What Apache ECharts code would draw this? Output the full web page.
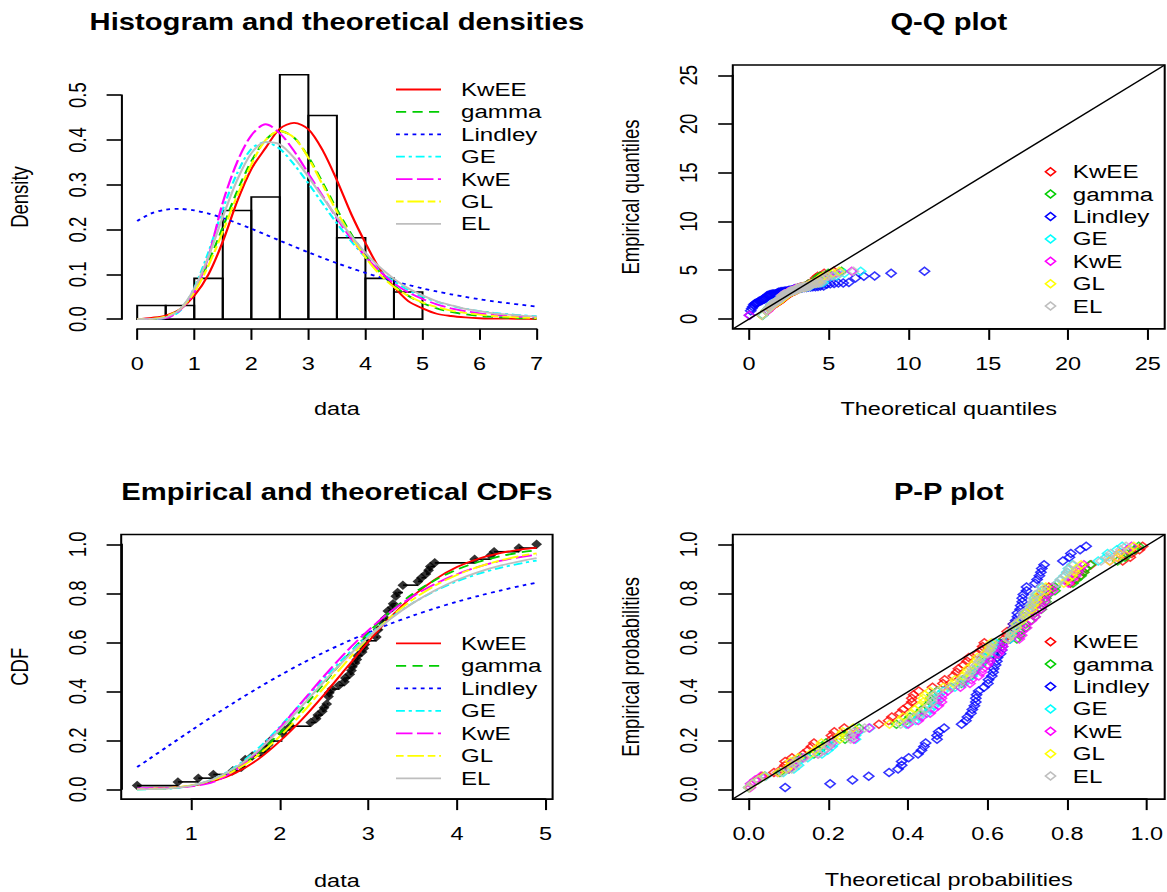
<!DOCTYPE html>
<html><head><meta charset="utf-8">
<script src="https://cdn.jsdelivr.net/npm/echarts@6/dist/echarts.min.js"></script>
<style>
html,body{margin:0;padding:0;background:#fff;overflow:hidden;}
#wrap{width:1167px;height:892px;overflow:hidden;position:relative;background:#fff;}
#main{width:919px;height:892px;transform:scaleX(1.269858542);transform-origin:0 0;}
</style></head>
<body><div id="wrap"><div id="main"></div></div>
<script>
// ---------------- DATA ----------------
const distNames = ['KwEE','gamma','Lindley','GE','KwE','GL','EL'];
const dataSorted = [0.39,0.85,1.08,1.25,1.47,1.57,1.61,1.61,1.69,1.80,1.84,1.87,1.89,2.03,2.03,2.05,2.12,2.35,2.41,2.43,2.48,2.50,2.53,2.55,2.55,2.56,2.59,2.67,2.73,2.74,2.79,2.81,2.82,2.85,2.87,2.88,2.93,2.95,2.96,2.97,3.09,3.11,3.11,3.15,3.15,3.19,3.22,3.22,3.27,3.28,3.31,3.31,3.33,3.39,3.39,3.56,3.60,3.65,3.68,3.70,3.75,4.20,4.38,4.42,4.70,4.90];
const histBreaks = [0,0.5,1,1.5,2,2.5,3,3.5,4,4.5,5];
const histDensity = [0.0303,0.0303,0.0909,0.2424,0.2727,0.5455,0.4545,0.1818,0.0909,0.0606];

const densX = [0,0.25,0.5,0.75,1,1.25,1.5,1.75,2,2.25,2.5,2.75,3,3.25,3.5,3.75,4,4.25,4.5,4.75,5,5.25,5.5,5.75,6,6.25,6.5,6.75,7];
const densKwEE = [0,0.003,0.008,0.022,0.052,0.10,0.173,0.262,0.335,0.382,0.425,0.438,0.424,0.377,0.31,0.235,0.17,0.112,0.072,0.04,0.024,0.012,0.007,0.004,0.002,0.001,0.001,0.0005,0.0003];
const densGamma = [0,0.0002,0.004,0.022,0.063,0.128,0.205,0.285,0.352,0.40,0.42,0.405,0.362,0.305,0.245,0.19,0.143,0.105,0.075,0.052,0.036,0.024,0.016,0.011,0.007,0.005,0.003,0.002,0.0013];
const densLindley = [0.219,0.2361,0.2445,0.2461,0.2427,0.2356,0.2258,0.2144,0.2018,0.1886,0.1753,0.162,0.1491,0.1368,0.1249,0.1138,0.1033,0.0936,0.0846,0.0764,0.0687,0.0618,0.0555,0.0497,0.0444,0.0397,0.0355,0.0316,0.0282];
const densGE = [0,0,0.002,0.018,0.07,0.15,0.245,0.325,0.38,0.395,0.38,0.345,0.303,0.258,0.214,0.174,0.138,0.108,0.084,0.065,0.05,0.039,0.03,0.023,0.018,0.014,0.011,0.0085,0.0066];
const densKwE = [0,0.0005,0.002,0.02,0.06,0.14,0.26,0.35,0.41,0.435,0.415,0.375,0.325,0.275,0.225,0.18,0.14,0.107,0.08,0.06,0.045,0.033,0.024,0.018,0.013,0.0095,0.007,0.005,0.0037];
const densGL = [0,0.0005,0.006,0.022,0.06,0.12,0.195,0.275,0.345,0.40,0.42,0.405,0.36,0.30,0.24,0.185,0.138,0.10,0.072,0.052,0.037,0.027,0.019,0.014,0.01,0.007,0.005,0.0035,0.0025];
const densEL = [0,0.0005,0.004,0.022,0.068,0.14,0.228,0.31,0.37,0.395,0.39,0.36,0.318,0.272,0.228,0.186,0.148,0.116,0.09,0.069,0.053,0.04,0.031,0.023,0.018,0.013,0.01,0.0076,0.0057];

const ecdfX = [0.39,0.85,1.08,1.25,1.47,1.57,1.61,1.69,1.80,1.84,1.87,1.89,2.03,2.05,2.12,2.35,2.41,2.43,2.48,2.50,2.53,2.55,2.56,2.59,2.67,2.73,2.74,2.79,2.81,2.82,2.85,2.87,2.88,2.93,2.95,2.96,2.97,3.09,3.11,3.15,3.19,3.22,3.27,3.28,3.31,3.33,3.39,3.56,3.60,3.65,3.68,3.70,3.75,4.20,4.38,4.42,4.70,4.90];
const ecdfY = [0.0152,0.0303,0.0455,0.0606,0.0758,0.0909,0.1212,0.1364,0.1515,0.1667,0.1818,0.197,0.2273,0.2424,0.2576,0.2727,0.2879,0.303,0.3182,0.3333,0.3485,0.3788,0.3939,0.4091,0.4242,0.4394,0.4545,0.4697,0.4848,0.5,0.5152,0.5303,0.5455,0.5606,0.5758,0.5909,0.6061,0.6212,0.6515,0.6818,0.697,0.7273,0.7424,0.7576,0.7879,0.803,0.8333,0.8485,0.8636,0.8788,0.8939,0.9091,0.9242,0.9394,0.9545,0.9697,0.9848,1.0];

const cdfX = [0.39,0.5,0.75,1,1.25,1.5,1.75,2,2.25,2.5,2.75,3,3.25,3.5,3.75,4,4.25,4.5,4.75,4.9];
const cdfKwEE = [0.0012,0.0018,0.0053,0.014,0.033,0.067,0.121,0.196,0.285,0.386,0.494,0.602,0.702,0.788,0.856,0.907,0.942,0.965,0.98,0.985];
const cdfGamma = [0.0003,0.0005,0.0039,0.0149,0.0397,0.0829,0.1464,0.229,0.3266,0.4329,0.5398,0.6393,0.7258,0.7971,0.8535,0.8967,0.9288,0.9522,0.9687,0.9749];
const cdfLindley = [0.091,0.1174,0.179,0.240,0.2999,0.3576,0.4127,0.4647,0.5136,0.559,0.6012,0.640,0.6757,0.7085,0.7384,0.7655,0.79,0.8123,0.8324,0.8436];
const cdfGE = [0.0002,0.0003,0.0028,0.014,0.042,0.0925,0.165,0.255,0.354,0.453,0.545,0.628,0.70,0.76,0.809,0.849,0.88,0.905,0.924,0.9336];
const cdfKwE = [0.004,0.0045,0.006,0.012,0.03,0.078,0.154,0.25,0.356,0.462,0.561,0.649,0.725,0.787,0.838,0.878,0.909,0.933,0.95,0.9572];
const cdfGL = [0.0006,0.001,0.005,0.016,0.038,0.078,0.138,0.216,0.31,0.415,0.52,0.618,0.703,0.774,0.831,0.875,0.909,0.935,0.955,0.9628];
const cdfEL = [0.0004,0.0006,0.004,0.0153,0.0417,0.0884,0.1567,0.243,0.34,0.4396,0.5348,0.6208,0.6957,0.7591,0.8116,0.854,0.8875,0.9136,0.9338,0.9435];

const qqKwEE = [0.816,1.114,1.286,1.397,1.506,1.576,1.646,1.716,1.776,1.826,1.877,1.927,1.978,2.024,2.067,2.109,2.152,2.195,2.237,2.276,2.313,2.351,2.388,2.426,2.464,2.501,2.536,2.571,2.606,2.641,2.676,2.711,2.746,2.781,2.816,2.851,2.887,2.922,2.957,2.992,3.029,3.067,3.105,3.143,3.181,3.218,3.257,3.301,3.345,3.39,3.434,3.478,3.528,3.583,3.639,3.695,3.75,3.824,3.899,3.973,4.069,4.177,4.304,4.467,4.705,5.31];
const qqGamma = [0.834,1.079,1.232,1.327,1.415,1.502,1.561,1.621,1.681,1.74,1.788,1.834,1.88,1.926,1.972,2.015,2.054,2.093,2.131,2.17,2.209,2.248,2.284,2.319,2.355,2.39,2.426,2.462,2.497,2.533,2.568,2.604,2.639,2.675,2.71,2.746,2.783,2.821,2.859,2.897,2.935,2.974,3.013,3.057,3.101,3.145,3.188,3.232,3.282,3.335,3.388,3.441,3.494,3.56,3.627,3.694,3.765,3.852,3.94,4.037,4.156,4.282,4.444,4.65,4.959,5.8];
const qqLindley = [0.034,0.102,0.168,0.232,0.297,0.36,0.423,0.484,0.547,0.608,0.67,0.732,0.793,0.855,0.917,0.979,1.042,1.105,1.168,1.232,1.297,1.362,1.427,1.494,1.561,1.63,1.699,1.77,1.841,1.914,1.987,2.064,2.141,2.22,2.303,2.388,2.471,2.555,2.644,2.739,2.834,2.93,3.028,3.139,3.25,3.361,3.471,3.598,3.731,3.864,3.997,4.158,4.321,4.482,4.676,4.872,5.088,5.334,5.6,5.904,6.258,6.673,7.197,7.874,8.907,11.0];
const qqGE = [0.857,1.078,1.213,1.304,1.38,1.454,1.521,1.573,1.625,1.677,1.73,1.776,1.818,1.86,1.902,1.944,1.986,2.026,2.064,2.102,2.14,2.179,2.217,2.255,2.293,2.331,2.37,2.408,2.446,2.485,2.525,2.566,2.607,2.648,2.69,2.731,2.774,2.82,2.865,2.911,2.956,3.003,3.055,3.108,3.161,3.213,3.269,3.332,3.395,3.458,3.527,3.604,3.681,3.76,3.855,3.949,4.057,4.178,4.314,4.465,4.654,4.872,5.152,5.48,5.98,7.0];
const qqKwE = [0.02,1.163,1.291,1.37,1.449,1.517,1.567,1.617,1.667,1.717,1.763,1.802,1.842,1.881,1.921,1.96,2.0,2.036,2.071,2.107,2.143,2.178,2.214,2.25,2.286,2.321,2.357,2.393,2.429,2.465,2.5,2.539,2.577,2.615,2.653,2.692,2.73,2.77,2.813,2.856,2.899,2.942,2.985,3.033,3.083,3.133,3.182,3.232,3.29,3.351,3.412,3.473,3.542,3.616,3.69,3.768,3.863,3.957,4.068,4.189,4.33,4.487,4.706,5.003,5.478,6.44];
const qqGL = [0.809,1.076,1.249,1.344,1.439,1.522,1.585,1.648,1.712,1.769,1.818,1.866,1.915,1.963,2.01,2.05,2.09,2.131,2.171,2.211,2.251,2.288,2.324,2.36,2.396,2.432,2.468,2.504,2.54,2.576,2.612,2.648,2.684,2.72,2.757,2.796,2.834,2.873,2.911,2.95,2.989,3.032,3.076,3.121,3.165,3.21,3.255,3.309,3.362,3.415,3.469,3.528,3.594,3.661,3.727,3.806,3.892,3.978,4.084,4.195,4.324,4.47,4.65,4.887,5.258,5.65];
const qqEL = [0.83,1.07,1.214,1.31,1.392,1.473,1.537,1.592,1.648,1.703,1.757,1.801,1.845,1.888,1.932,1.976,2.018,2.057,2.096,2.135,2.174,2.214,2.252,2.29,2.328,2.366,2.404,2.442,2.48,2.519,2.559,2.599,2.639,2.679,2.718,2.759,2.803,2.847,2.891,2.935,2.979,3.027,3.077,3.128,3.178,3.229,3.285,3.345,3.404,3.464,3.529,3.601,3.673,3.745,3.834,3.923,4.016,4.128,4.242,4.384,4.538,4.725,4.954,5.275,5.704,6.55];

const ppEmp = [0.0076,0.0227,0.0379,0.053,0.0682,0.0833,0.0985,0.1136,0.1288,0.1439,0.1591,0.1742,0.1894,0.2045,0.2197,0.2348,0.25,0.2652,0.2803,0.2955,0.3106,0.3258,0.3409,0.3561,0.3712,0.3864,0.4015,0.4167,0.4318,0.447,0.4621,0.4773,0.4924,0.5076,0.5227,0.5379,0.553,0.5682,0.5833,0.5985,0.6136,0.6288,0.6439,0.6591,0.6742,0.6894,0.7045,0.7197,0.7348,0.75,0.7652,0.7803,0.7955,0.8106,0.8258,0.8409,0.8561,0.8712,0.8864,0.9015,0.9167,0.9318,0.947,0.9621,0.9773,0.9924];
const ppKwEE = [0.0012,0.0088,0.0201,0.033,0.0629,0.0821,0.0908,0.0908,0.108,0.136,0.148,0.157,0.163,0.2067,0.2067,0.2138,0.2387,0.3254,0.3496,0.3577,0.3779,0.386,0.399,0.4076,0.4076,0.4119,0.4249,0.4594,0.4854,0.4897,0.5113,0.5199,0.5242,0.5372,0.5458,0.5502,0.5718,0.5804,0.5847,0.589,0.638,0.646,0.646,0.662,0.662,0.678,0.69,0.69,0.7089,0.7123,0.7226,0.7226,0.7295,0.7502,0.7502,0.8043,0.8152,0.8288,0.837,0.8424,0.856,0.935,0.954,0.9577,0.977,0.9848];
const ppGamma = [0.0003,0.0083,0.0228,0.0397,0.0777,0.1007,0.1108,0.1108,0.1312,0.1629,0.1761,0.186,0.1927,0.2407,0.2407,0.2485,0.2758,0.3691,0.3946,0.4031,0.4244,0.4329,0.4457,0.4543,0.4543,0.4586,0.4714,0.5056,0.5312,0.5355,0.5557,0.5637,0.5677,0.5796,0.5876,0.5915,0.6114,0.6194,0.6234,0.6274,0.6704,0.6774,0.6774,0.6912,0.6912,0.705,0.7154,0.7154,0.7315,0.7344,0.7429,0.7429,0.7486,0.7657,0.7657,0.8106,0.8197,0.831,0.8377,0.8422,0.8535,0.9224,0.941,0.9447,0.9654,0.9749];
const ppLindley = [0.091,0.2034,0.2593,0.2999,0.3508,0.3733,0.3822,0.3822,0.3998,0.4233,0.4318,0.438,0.4422,0.4707,0.4707,0.4748,0.4885,0.5322,0.5431,0.5467,0.5555,0.559,0.5642,0.5676,0.5676,0.5695,0.5747,0.5881,0.5979,0.5995,0.6076,0.6109,0.6124,0.6171,0.6203,0.6219,0.6296,0.6326,0.6341,0.6355,0.6534,0.6563,0.6563,0.6619,0.6619,0.6674,0.6717,0.6717,0.6784,0.6799,0.6838,0.6838,0.6866,0.6945,0.6945,0.7159,0.7209,0.7267,0.7304,0.7326,0.7384,0.7854,0.8018,0.8054,0.8285,0.8436];
const ppGE = [0.0002,0.0073,0.023,0.042,0.0864,0.1128,0.1244,0.1244,0.1476,0.183,0.1974,0.2082,0.2154,0.2669,0.2669,0.2748,0.3025,0.3936,0.4174,0.4253,0.4451,0.453,0.464,0.4714,0.4714,0.4751,0.4861,0.5156,0.5376,0.5413,0.5583,0.5649,0.5682,0.5782,0.5848,0.5882,0.6048,0.6114,0.6147,0.618,0.6539,0.6597,0.6597,0.6712,0.6712,0.6827,0.6914,0.6914,0.7048,0.7072,0.7144,0.7144,0.7192,0.7336,0.7336,0.7718,0.7796,0.7894,0.7953,0.7992,0.809,0.8738,0.893,0.897,0.9202,0.9336];
const ppKwE = [0.004,0.0045,0.0157,0.03,0.0722,0.0993,0.1114,0.1114,0.1358,0.1732,0.1886,0.2001,0.2078,0.2627,0.2627,0.2712,0.3009,0.3984,0.4238,0.4323,0.4535,0.462,0.4739,0.4818,0.4818,0.4858,0.4976,0.5293,0.5531,0.557,0.5751,0.5821,0.5856,0.5962,0.6032,0.6068,0.6244,0.6314,0.6349,0.6384,0.6764,0.6824,0.6824,0.6946,0.6946,0.7068,0.7159,0.7159,0.73,0.7324,0.7399,0.7399,0.7448,0.7597,0.7597,0.7992,0.8074,0.8176,0.8237,0.8278,0.838,0.9028,0.9215,0.9253,0.9466,0.9572];
const ppGL = [0.0006,0.0094,0.023,0.038,0.0732,0.0948,0.1044,0.1044,0.1236,0.1536,0.1661,0.1754,0.1817,0.2273,0.2273,0.2348,0.2611,0.352,0.3772,0.3856,0.4066,0.415,0.4276,0.436,0.436,0.4402,0.4528,0.4864,0.5116,0.5158,0.5357,0.5435,0.5474,0.5592,0.567,0.571,0.5906,0.5984,0.6023,0.6062,0.6486,0.6554,0.6554,0.669,0.669,0.6826,0.6928,0.6928,0.7087,0.7115,0.72,0.72,0.7257,0.7428,0.7428,0.7877,0.7968,0.8082,0.815,0.8196,0.831,0.9022,0.9225,0.9267,0.951,0.9628];
const ppEL = [0.0004,0.0085,0.0237,0.0417,0.0828,0.1075,0.1185,0.1185,0.1403,0.174,0.1878,0.1981,0.205,0.2546,0.2546,0.2624,0.2896,0.3798,0.4037,0.4117,0.4316,0.4396,0.451,0.4586,0.4586,0.4624,0.4739,0.5043,0.5272,0.531,0.5486,0.5554,0.5589,0.5692,0.5761,0.5795,0.5967,0.6036,0.607,0.6105,0.6478,0.6538,0.6538,0.6657,0.6657,0.6777,0.6867,0.6867,0.7008,0.7033,0.7109,0.7109,0.716,0.7312,0.7312,0.7717,0.7801,0.7906,0.7969,0.8011,0.8116,0.8808,0.9011,0.9052,0.9298,0.9435];

// ---------------- STYLE / LAYOUT ----------------
const densAll = [densKwEE,densGamma,densLindley,densGE,densKwE,densGL,densEL];
const cdfAll = [cdfKwEE,cdfGamma,cdfLindley,cdfGE,cdfKwE,cdfGL,cdfEL];
const qqAll = [qqKwEE,qqGamma,qqLindley,qqGE,qqKwE,qqGL,qqEL];
const ppAll = [ppKwEE,ppGamma,ppLindley,ppGE,ppKwE,ppGL,ppEL];
const colors = ['#FF0000','#00CD00','#0000FF','#00FFFF','#FF00FF','#FFFF00','#BEBEBE'];
const dashes = ['solid',[8,5],[3,3.5],[7,3,2.5,3],[13,3.5],[6,3,13,3],'solid'];

const S = 1167/919;
const X = v => v / S;
const FONT = '"Liberation Sans", Arial, Helvetica, sans-serif';
const f1 = v => Number(v).toFixed(1);
const f0 = v => String(Math.round(v));

const panels = [
  {L:121.2, R:552.6, T:65, B:328.9, xr:[-0.28,7.28], yr:[-0.02182,0.56732], xt:[0,7,1], yt:[0,0.5,0.1], xf:f0, yf:f1, box:false},
  {L:732.8, R:1164.7, T:65, B:328.9, xr:[-1.02,26.06], yr:[-1.02,26.06], xt:[0,25,5], yt:[0,25,5], xf:f0, yf:f0, box:true},
  {L:121.2, R:552.6, T:534.5, B:799.1, xr:[0.2096,5.0804], yr:[-0.04,1.04], xt:[1,5,1], yt:[0,1,0.2], xf:f0, yf:f1, box:true},
  {L:732.8, R:1164.7, T:534.5, B:799.1, xr:[-0.04,1.04], yr:[-0.04,1.04], xt:[0,1,0.2], yt:[0,1,0.2], xf:f1, yf:f1, box:true}
];
const px = (p,v) => p.L + (v - p.xr[0]) / (p.xr[1]-p.xr[0]) * (p.R - p.L);
const py = (p,v) => p.B - (v - p.yr[0]) / (p.yr[1]-p.yr[0]) * (p.B - p.T);

const grid = [], xAxis = [], yAxis = [];
panels.forEach((p,k) => {
  grid.push({left:X(p.L), top:p.T, width:X(p.R-p.L), height:p.B-p.T, show:p.box, borderColor:'#000', borderWidth:1.6, backgroundColor:'rgba(0,0,0,0)'});
  xAxis.push({type:'value', gridIndex:2*k, min:p.xr[0], max:p.xr[1], show:false});
  yAxis.push({type:'value', gridIndex:2*k, min:p.yr[0], max:p.yr[1], show:false});
  const x0 = px(p,p.xt[0]), x1 = px(p,p.xt[1]), y0 = py(p,p.yt[0]), y1 = py(p,p.yt[1]);
  grid.push({left:X(x0), top:y1, width:X(x1-x0), height:y0-y1, show:false});
  const lbl = {show:true, color:'#000', fontSize:18.5, fontFamily:FONT, margin:25, showMinLabel:true, showMaxLabel:true};
  xAxis.push({type:'value', gridIndex:2*k+1, position:'bottom', offset:p.B - y0, min:p.xt[0], max:p.xt[1], interval:p.xt[2],
    axisLine:{show:true, onZero:false, lineStyle:{color:'#000', width:1.6}},
    axisTick:{show:true, inside:false, length:11, lineStyle:{color:'#000', width:1.6}},
    axisLabel:Object.assign({formatter:p.xf}, lbl), splitLine:{show:false}});
  yAxis.push({type:'value', gridIndex:2*k+1, position:'left', offset:X(x0 - p.L), min:p.yt[0], max:p.yt[1], interval:p.yt[2],
    axisLine:{show:true, onZero:false, lineStyle:{color:'#000', width:1.6}},
    axisTick:{show:true, inside:false, length:11.5, lineStyle:{color:'#000', width:1.6}},
    axisLabel:Object.assign({formatter:p.yf, rotate:90}, lbl), splitLine:{show:false}});
});

const series = [];
// Panel 1: histogram + densities
series.push({type:'custom', xAxisIndex:0, yAxisIndex:0, silent:true,
  data: histDensity.map((d,i) => [histBreaks[i], histBreaks[i+1], d]),
  encode:{x:[0,1], y:2},
  renderItem: function(params, api){
    const a = api.coord([api.value(0), 0]);
    const b = api.coord([api.value(1), api.value(2)]);
    return {type:'rect', shape:{x:a[0], y:b[1], width:b[0]-a[0], height:a[1]-b[1]},
      style:{fill:'rgba(0,0,0,0)', stroke:'#000', lineWidth:1.6}};
  }});
densAll.forEach((arr,k) => series.push({type:'line', name:distNames[k], xAxisIndex:0, yAxisIndex:0, silent:true,
  data: densX.map((x,i) => [x, arr[i]]), symbol:'none', showSymbol:false, smooth:0.3,
  lineStyle:{color:colors[k], width:1.8, type:dashes[k]}}));

// Panel 2: Q-Q
qqAll.forEach((arr,k) => series.push({type:'scatter', name:distNames[k], xAxisIndex:2, yAxisIndex:2, silent:true,
  data: arr.map((q,i) => [q, dataSorted[i]]), symbol:'diamond', symbolSize:[8,8],
  itemStyle:{color:'rgba(0,0,0,0)', borderColor:colors[k], borderWidth:1.4}}));
series.push({type:'line', xAxisIndex:2, yAxisIndex:2, silent:true, z:5, symbol:'none',
  data:[[panels[1].xr[0], panels[1].yr[0]], [panels[1].xr[1], panels[1].yr[1]]], lineStyle:{color:'#000', width:1.3}});

// Panel 3: CDFs
series.push({type:'custom', xAxisIndex:4, yAxisIndex:4, silent:true,
  data: ecdfX.slice(0,-1).map((x,i) => [x, ecdfX[i+1], ecdfY[i]]),
  encode:{x:[0,1], y:2},
  renderItem: function(params, api){
    const a = api.coord([api.value(0), api.value(2)]);
    const b = api.coord([api.value(1), api.value(2)]);
    return {type:'line', shape:{x1:a[0], y1:a[1], x2:b[0], y2:b[1]}, style:{stroke:'#000', lineWidth:1.6}};
  }});
series.push({type:'scatter', xAxisIndex:4, yAxisIndex:4, silent:true,
  data: ecdfX.map((x,i) => [x, ecdfY[i]]), symbol:'diamond', symbolSize:[8.5,9.5], itemStyle:{color:'#000'}});
cdfAll.forEach((arr,k) => series.push({type:'line', name:distNames[k], xAxisIndex:4, yAxisIndex:4, silent:true,
  data: cdfX.map((x,i) => [x, arr[i]]), symbol:'none', showSymbol:false, smooth:0.3,
  lineStyle:{color:colors[k], width:1.8, type:dashes[k]}}));

// Panel 4: P-P
ppAll.forEach((arr,k) => series.push({type:'scatter', name:distNames[k], xAxisIndex:6, yAxisIndex:6, silent:true,
  data: arr.map((v,i) => [v, ppEmp[i]]), symbol:'diamond', symbolSize:[8,8],
  itemStyle:{color:'rgba(0,0,0,0)', borderColor:colors[k], borderWidth:1.4}}));
series.push({type:'line', xAxisIndex:6, yAxisIndex:6, silent:true, z:5, symbol:'none',
  data:[[panels[3].xr[0], panels[3].yr[0]], [panels[3].xr[1], panels[3].yr[1]]], lineStyle:{color:'#000', width:1.3}});

// ---------------- TEXT & LEGENDS ----------------
const els = [];
function txt(x, y, s, opts){
  opts = opts || {};
  els.push({type:'text', x:X(x), y:y, rotation:opts.rot || 0, silent:true,
    style:{text:s, fill:'#000', font:(opts.bold?'bold ':'normal ') + (opts.size||18.5) + 'px ' + FONT,
      align:opts.align||'center', verticalAlign:'middle', textAlign:opts.align||'center', textVerticalAlign:'middle'}});
}
txt(336.9, 21.7, 'Histogram and theoretical densities', {bold:true, size:23});
txt(948.75, 21.7, 'Q-Q plot', {bold:true, size:23});
txt(336.9, 491.7, 'Empirical and theoretical CDFs', {bold:true, size:23});
txt(948.75, 491.7, 'P-P plot', {bold:true, size:23});
txt(336.9, 408, 'data');
txt(948.75, 408.3, 'Theoretical quantiles');
txt(336.9, 880, 'data');
txt(948.75, 879.3, 'Theoretical probabilities');
txt(19.5, 197, 'Density', {rot:Math.PI/2});
txt(630.7, 197, 'Empirical quantiles', {rot:Math.PI/2});
txt(19.5, 666.8, 'CDF', {rot:Math.PI/2});
txt(630.7, 666.8, 'Empirical probabilities', {rot:Math.PI/2});

function lineLegend(y0, dy){
  distNames.forEach((n,k) => {
    const y = y0 + dy*k;
    els.push({type:'line', silent:true, shape:{x1:X(396), y1:y, x2:X(441), y2:y},
      style:{stroke:colors[k], lineWidth:1.8, lineDash: Array.isArray(dashes[k]) ? dashes[k] : null}});
    txt(461, y, n, {align:'left', size:19});
  });
}
function pointLegend(y0, dy){
  distNames.forEach((n,k) => {
    const y = y0 + dy*k, cx = X(1050.5), r = 4;
    els.push({type:'polygon', silent:true, shape:{points:[[cx, y-r],[cx+r, y],[cx, y+r],[cx-r, y]]},
      style:{fill:'rgba(0,0,0,0)', stroke:colors[k], lineWidth:1.4}});
    txt(1072.8, y, n, {align:'left', size:19});
  });
}
lineLegend(89.5, 22.4);
lineLegend(643.3, 22.5);
pointLegend(171.7, 22.4);
pointLegend(641.7, 22.4);

const chart = echarts.init(document.getElementById('main'), null, {renderer:'svg', width:919, height:892});
chart.setOption({animation:false, backgroundColor:'#fff', grid:grid, xAxis:xAxis, yAxis:yAxis, series:series, graphic:{elements:els}});
</script>
</body></html>
